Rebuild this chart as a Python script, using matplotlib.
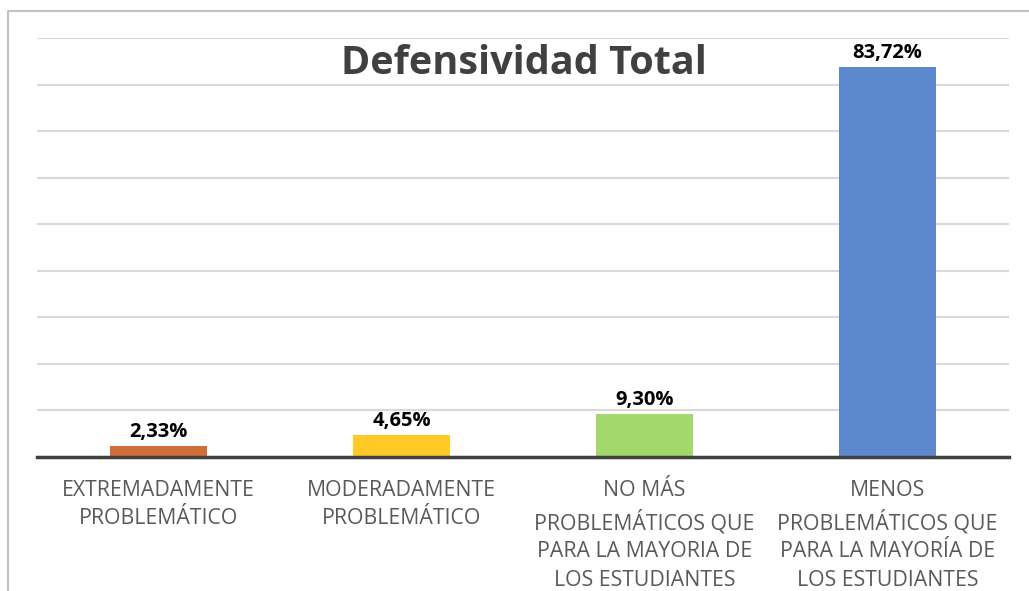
import matplotlib.pyplot as plt
from matplotlib.lines import Line2D

plt.rcParams['font.family'] = ['Open Sans', 'DejaVu Sans']

categorias = [
    "EXTREMADAMENTE\nPROBLEMÁTICO",
    "MODERADAMENTE\nPROBLEMÁTICO",
    "NO MÁS\nPROBLEMÁTICOS QUE\nPARA LA MAYORIA DE\nLOS ESTUDIANTES",
    "MENOS\nPROBLEMÁTICOS QUE\nPARA LA MAYORÍA DE\nLOS ESTUDIANTES",
]
porcentajes = [2.33, 4.65, 9.30, 83.72]
etiquetas = ["2,33%", "4,65%", "9,30%", "83,72%"]
colores = ["#CD6F36", "#FFC928", "#A3D86B", "#5E88CE"]

fig = plt.figure(figsize=(10.29, 5.91), dpi=100)
ax = fig.add_axes([37 / 1029, 1 - 457 / 591, 972 / 1029, 419 / 591])

x = range(len(categorias))
ax.bar(x, porcentajes, width=0.4, color=colores, zorder=3)
for xi, v, t in zip(x, porcentajes, etiquetas):
    ax.annotate(t, (xi, v), xytext=(0, 3), textcoords="offset points",
                ha="center", va="bottom", fontsize=14.5, fontweight="bold",
                color="black", zorder=4)

ax.set_xlim(-0.5, 3.5)
ax.set_ylim(0, 90)
ax.set_yticks(range(0, 91, 10))
ax.yaxis.grid(True, color="#D9D9D9", linewidth=1.5, zorder=0)
ax.tick_params(axis="y", left=False, labelleft=False)
ax.tick_params(axis="x", bottom=False, pad=13)
ax.set_xticks(list(x))
ax.set_xticklabels(categorias, fontsize=15.3, color="#595959", linespacing=1.45)
for s in ["top", "right", "left"]:
    ax.spines[s].set_visible(False)
ax.spines["bottom"].set_color("#404040")
ax.spines["bottom"].set_linewidth(2.5)
ax.spines["bottom"].set_zorder(5)

fig.text(524 / 1029, 1 - 64 / 591, "Defensividad Total", ha="center", va="center",
         fontsize=28.5, fontweight="bold", color="#404040")

# marco del gráfico
fig.add_artist(Line2D([8 / 1029, 8 / 1029, 1.0], [0, 1 - 11 / 591, 1 - 11 / 591],
                      transform=fig.transFigure, color="#C0C0C0", linewidth=1.5))

fig.savefig("out.png", dpi=100)
